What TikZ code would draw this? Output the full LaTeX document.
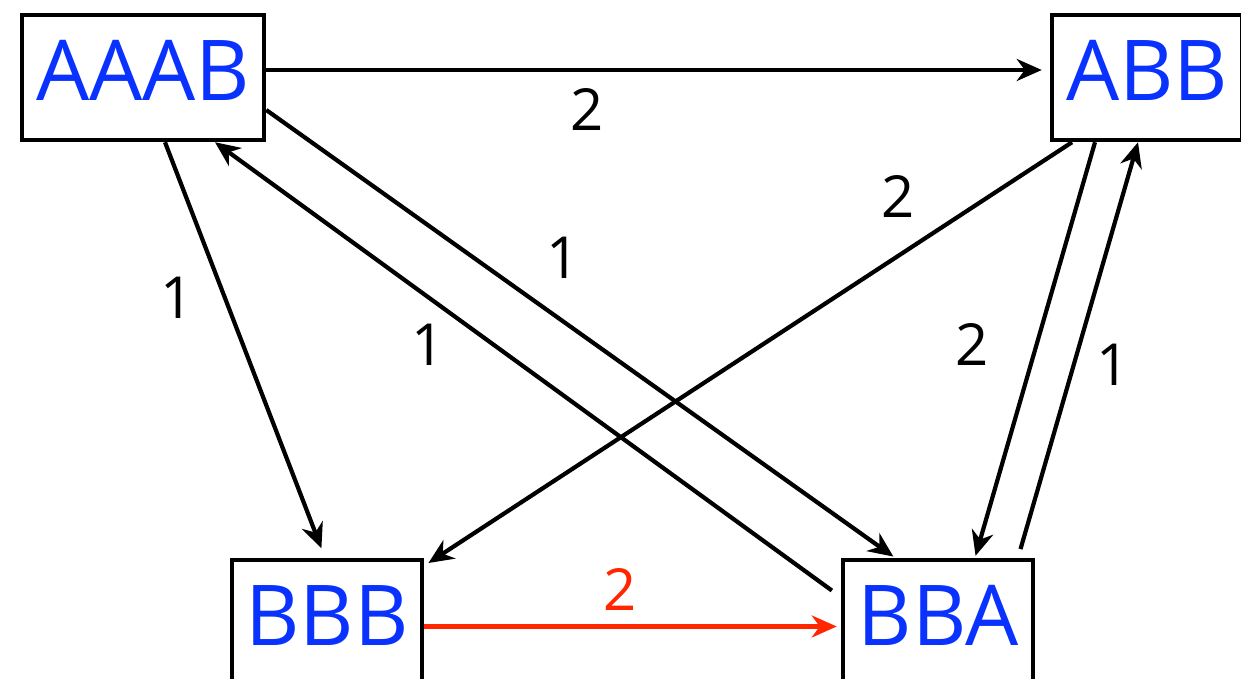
\documentclass[tikz,border=0pt]{standalone}
\usepackage{fontspec}
\setmainfont{Open Sans}
\usetikzlibrary{arrows.meta,shadows}
\definecolor{nodeblue}{RGB}{10,50,255}
\definecolor{edgered}{RGB}{255,38,0}
\begin{document}
\begin{tikzpicture}[x=1pt,y=1pt,
  statebox/.style={draw=black, line width=4.5pt, fill=white, text=nodeblue,
    font=\fontsize{84}{84}\selectfont, inner xsep=0pt, inner ysep=0pt,
    text height=86pt, text depth=39pt, minimum width=#1,
    drop shadow={shadow xshift=1.5pt, shadow yshift=-1.5pt, opacity=0.25}},
  statebox/.default=190pt,
  edge/.style={draw=black, line width=4.2pt, -{Stealth[length=25pt,width=22pt,inset=8pt]}},
  rededge/.style={edge, draw=edgered, -{Stealth[length=25pt,width=22pt,inset=8pt,fill=edgered]}},
  wlabel/.style={font=\fontsize{58}{58}\selectfont, text=black, inner sep=0pt},
]
\useasboundingbox (0,0) rectangle (1241,679);

\node[statebox=242pt] (AAAB) at (143,601.5) {AAAB};
\node[statebox] (ABB) at (1147,601.5) {ABB};
\node[statebox] (BBB) at (327,56.5) {BBB};
\node[statebox] (BBA) at (938,56.5) {BBA};

% edges
\draw[edge, shorten >=8pt] ([yshift=7.5pt]AAAB.east) -- ([yshift=7.5pt]ABB.west);
\draw[edge, shorten >=10pt] ([xshift=22pt]AAAB.south) -- ([xshift=-2pt]BBB.north);
\draw[edge, shorten >=2pt] ([yshift=-32.5pt]AAAB.east) -- ([xshift=-43pt]BBA.north);
\draw[edge, shorten <=11pt] ([yshift=25.5pt]BBA.west) -- ([xshift=72pt]AAAB.south);
\draw[edge, shorten >=5pt] ([xshift=-75pt]ABB.south) -- ([yshift=-8pt]BBB.north east);
\draw[edge, shorten >=2pt] ([xshift=-52pt]ABB.south) -- ([xshift=37pt]BBA.north);
\draw[edge, shorten <=9pt] ([xshift=80pt]BBA.north) -- ([xshift=-9pt]ABB.south);
\draw[rededge, shorten >=4pt] ([yshift=-4pt]BBB.east) -- ([yshift=-4pt]BBA.west);

% labels
\node[wlabel] (l1) at (587,569) {2};
\node[wlabel] (l2) at (177,381) {1};
\node[wlabel] (l3) at (563,421) {1};
\node[wlabel] (l4) at (428,334) {1};
\node[wlabel] (l5) at (898,482) {2};
\node[wlabel] (l6) at (972,334) {2};
\node[wlabel] (l7) at (1113,314) {1};
\node[wlabel, text=edgered] (l8) at (620,89) {2};
\end{tikzpicture}
\end{document}
